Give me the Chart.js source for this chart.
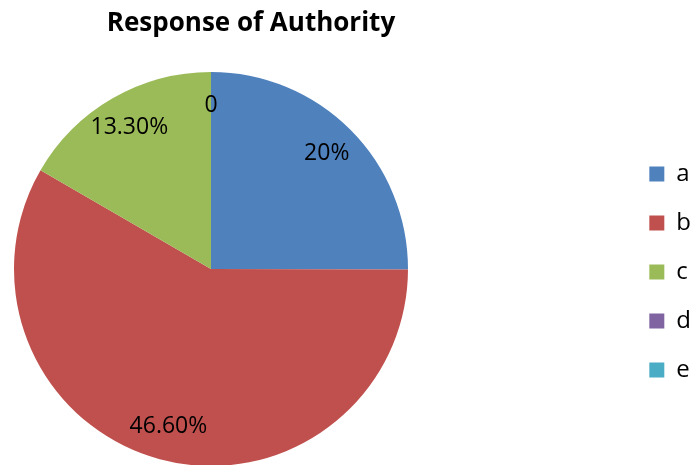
<!DOCTYPE html>
<html lang="en">

<head>
  <meta charset="UTF-8">
  <title>Response of Authority</title>
  <script src="https://cdn.jsdelivr.net/npm/chart.js"></script>
  <style>
    body { margin: 0; background: #fff; }
    #wrap { width: 691px; height: 465px; }
  </style>
</head>

<body>
  <div id="wrap">
    <canvas id="authorityPie"></canvas>
  </div>
  <script>
    // values
    const categories = ['a', 'b', 'c', 'd', 'e'];
    const responseValues = [20, 46.6, 13.3, 0, 0];
    const dataLabels = ['20%', '46.60%', '13.30%', '0', ''];
    const sliceColors = ['#4F81BD', '#C0504D', '#9BBB59', '#8064A2', '#4BACC6'];

    // keep the pie on the left part of the canvas, legend stays far right
    const pieArea = {
      id: 'pieArea',
      afterLayout(chart) {
        const a = chart.chartArea;
        a.left = 14;
        a.right = 408;
        a.top = 72;
        a.bottom = 466;
        a.width = a.right - a.left;
        a.height = a.bottom - a.top;
      }
    };

    // draws the value labels inside the slices, near the rim
    const sliceLabels = {
      id: 'sliceLabels',
      afterDatasetsDraw(chart) {
        const ctx = chart.ctx;
        const arcs = chart.getDatasetMeta(0).data;
        ctx.save();
        ctx.font = '23px "Open Sans"';
        ctx.fillStyle = '#000';
        ctx.textAlign = 'center';
        ctx.textBaseline = 'middle';
        arcs.forEach((arc, i) => {
          const text = dataLabels[i];
          if (!text) return;
          const p = arc.getProps(['x', 'y', 'startAngle', 'endAngle', 'outerRadius'], true);
          const mid = (p.startAngle + p.endAngle) / 2;
          const r = p.outerRadius * 0.83;
          ctx.fillText(text, p.x + Math.cos(mid) * r, p.y + Math.sin(mid) * r);
        });
        ctx.restore();
      }
    };

    const ctx = document.getElementById('authorityPie').getContext('2d');
    const authorityPie = new Chart(ctx, {
      type: 'pie',
      data: {
        labels: categories,
        datasets: [{
          data: responseValues,
          backgroundColor: sliceColors,
          borderWidth: 0
        }]
      },
      options: {
        responsive: true,
        maintainAspectRatio: false,
        animation: false,
        radius: 197,
        layout: {
          padding: { left: -199, right: -10, top: 0, bottom: 0 }
        },
        plugins: {
          title: {
            display: true,
            text: 'Response of Authority',
            color: '#000',
            font: { family: '"Open Sans"', size: 26, weight: 'bold' },
            padding: { top: 8, bottom: 40 }
          },
          legend: {
            position: 'right',
            fullSize: false,
            labels: {
              color: '#000',
              font: { family: '"Open Sans"', size: 24 },
              boxWidth: 15,
              boxHeight: 15,
              padding: 25
            }
          },
          tooltip: { enabled: false }
        }
      },
      plugins: [pieArea, sliceLabels]
    });
  </script>
</body>

</html>
